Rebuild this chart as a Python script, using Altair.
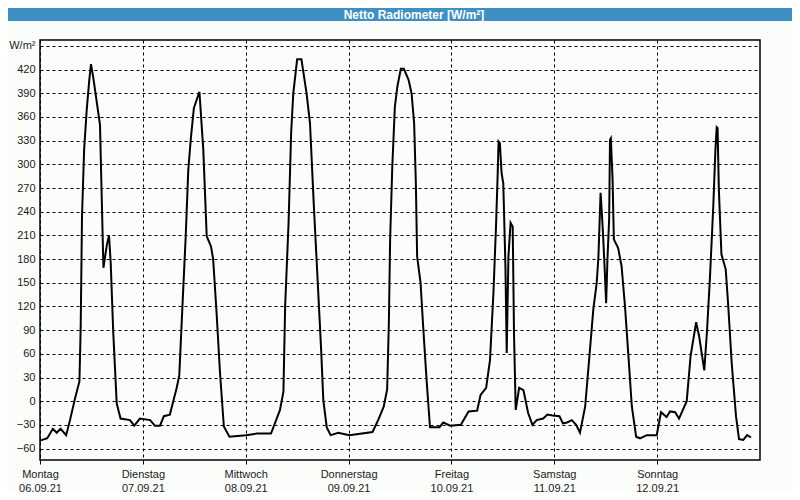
import altair as alt
import pandas as pd

# x axis: day names and dates (one label per day start)
day_names = ["Montag", "Dienstag", "Mittwoch", "Donnerstag", "Freitag", "Samstag", "Sonntag"]
day_dates = ["06.09.21", "07.09.21", "08.09.21", "09.09.21", "10.09.21", "11.09.21", "12.09.21"]
day_starts = [0, 24, 48, 72, 96, 120, 144]

# y axis ticks
y_ticks = [-60, -30, 0, 30, 60, 90, 120, 150, 180, 210, 240, 270, 300, 330, 360, 390, 420, 450]

# series: hours since 06.09.21 00:00 and net radiation in W/m²
hours = [
    0, 1.7, 3.0, 3.9, 4.8, 6.1, 7.0, 8.2, 9.2, 9.5, 9.8, 10.3, 10.9, 11.5, 11.9, 12.4,
    14.0, 14.4, 14.8, 15.6, 16.1, 16.5, 17.1, 17.9, 18.8, 21.0, 22.0, 23.3,
    25.7, 26.8, 28.0, 28.9, 30.3, 31.9, 32.5, 33.3, 34.0, 34.6, 35.2, 35.9, 37.2, 38.1,
    38.9, 39.9, 40.4, 41.2, 42.0, 42.9, 44.2,
    48.1, 50.6, 53.9, 56.0, 56.8, 57.2, 58.0, 58.6, 59.1, 60.0, 61.0, 62.2, 63.0, 63.9,
    64.7, 65.6, 66.1, 66.9, 67.8, 69.6,
    72.2, 77.6, 78.9, 80.2, 81.0, 81.4, 81.7, 82.2, 82.8, 83.4, 84.2, 84.9, 86.0, 86.7,
    87.3, 87.7, 88.0, 88.8, 89.4, 90.2, 91.0, 93.2, 94.1, 95.7,
    98.2, 100.0, 102.0, 102.8, 104.1, 105.0, 105.8, 106.4, 106.8, 107.0, 107.3, 107.7,
    108.1, 108.6, 108.9, 109.3, 109.8, 110.3, 110.6, 111.0, 111.8, 112.8, 113.9, 114.9,
    115.9, 117.4, 118.4, 119.6,
    121.2, 122.0, 123.0, 124.1, 125.1, 126.0, 127.2, 128.2, 129.1, 129.9, 130.3, 130.8,
    131.1, 131.4, 131.8, 132.1, 132.4, 132.8, 133.0, 133.2, 133.6, 133.9, 134.9, 135.7,
    136.5, 137.3, 138.1, 139.1, 140.0, 141.6, 143.9,
    144.9, 146.2, 147.0, 148.2, 149.1, 150.9, 151.8, 153.1, 153.8, 155.0, 155.6, 156.3,
    157.1, 157.6, 157.9, 158.1, 158.4, 159.0, 160.0, 160.6, 161.4, 162.4, 163.1, 164.1,
    165.0, 165.9,
]
values = [
    -50, -47, -35, -40, -35, -43, -24, 4, 25, 95, 234, 319, 369, 407, 427, 411,
    350, 259, 169, 198, 210, 175, 86, -3, -22, -24, -31, -22,
    -24, -31, -31, -19, -17, 17, 33, 128, 209, 293, 333, 371, 392, 319,
    209, 196, 180, 112, 36, -32, -45,
    -43, -41, -41, -11, 12, 120, 226, 340, 390, 433, 433, 390, 352, 247,
    162, 65, 2, -33, -43, -40,
    -43, -39, -24, -7, 15, 99, 205, 297, 373, 399, 421, 421, 407, 390,
    352, 276, 183, 150, 95, 27, -33, -33, -27, -31,
    -30, -13, -12, 8, 17, 52, 137, 221, 289, 329, 327, 289,
    276, 171, 61, 183, 226, 221, 86, -11, 17, 14, -15, -30,
    -24, -22, -17, -18,
    -19, -28, -27, -24, -30, -40, -7, 57, 116, 150, 183, 264,
    238, 209, 162, 124, 179, 230, 331, 333, 281, 205, 194, 171,
    120, 57, -7, -45, -47, -43, -43,
    -14, -20, -13, -14, -22, 0, 57, 100, 82, 39, 86, 154,
    247, 319, 347, 346, 268, 186, 167, 120, 48, -19, -48, -49,
    -43, -46,
]

df = pd.DataFrame({"h": hours, "v": values})
one = pd.DataFrame({"k": [0]})

FONT = "Liberation Sans"
TXT = "#1a1a1a"
BLUE = "#3d8fc4"

names_js = "[" + ",".join(f"'{n}'" for n in day_names) + "]"
dates_js = "[" + ",".join(f"'{d}'" for d in day_dates) + "]"
x_label_expr = f"[{names_js}[round(datum.value/24)], {dates_js}[round(datum.value/24)]]"

line = alt.Chart(df).mark_line(color="black", strokeWidth=2, strokeJoin="miter").encode(
    x=alt.X(
        "h:Q",
        scale=alt.Scale(domain=[0, 168], nice=False, zero=False),
        axis=alt.Axis(
            values=day_starts, labelExpr=x_label_expr, title=None,
            grid=True, gridDash=[3, 3], gridColor="black", gridWidth=1, gridOpacity=1,
            domain=False, ticks=True, tickSize=4, tickColor="black",
            labelFont=FONT, labelFontSize=11, labelColor=TXT, labelLineHeight=14,
            labelPadding=4, labelAlign="center", labelFlush=False, labelOverlap=False,
        ),
    ),
    y=alt.Y(
        "v:Q",
        scale=alt.Scale(domain=[-74.5, 457.5], nice=False, zero=False),
        axis=alt.Axis(
            values=y_ticks, labelExpr="datum.value == 450 ? 'W/m²' : datum.label", title=None,
            grid=True, gridDash=[3, 3], gridColor="black", gridWidth=1, gridOpacity=1,
            domain=False, ticks=False, labelPadding=5,
            labelFont=FONT, labelFontSize=11, labelColor=TXT,
            labelFlush=False, labelOverlap=False,
        ),
    ),
)

# window-style title bar (view coordinates; view origin at svg (32,32))
title_bar = alt.Chart(one).mark_rect(color=BLUE).encode(
    x=alt.value(-32), x2=alt.value(752), y=alt.value(-32), y2=alt.value(-19)
)
title_text = alt.Chart(one).mark_text(
    text="Netto Radiometer [W/m²]", color="white", font=FONT, fontSize=12,
    fontWeight="bold", align="center", baseline="middle",
).encode(x=alt.value(374), y=alt.value(-25.5))

chart = alt.layer(line, title_bar, title_text).properties(
    width=720, height=420,
    padding={"left": 32, "top": 32, "right": 32, "bottom": 32},
    autosize=alt.AutoSizeParams(type="none"),
    background="#fbfdfb",
).configure_view(stroke="black", strokeWidth=1.5)

chart.save("out.html", embed_options={"renderer": "svg", "actions": False})
